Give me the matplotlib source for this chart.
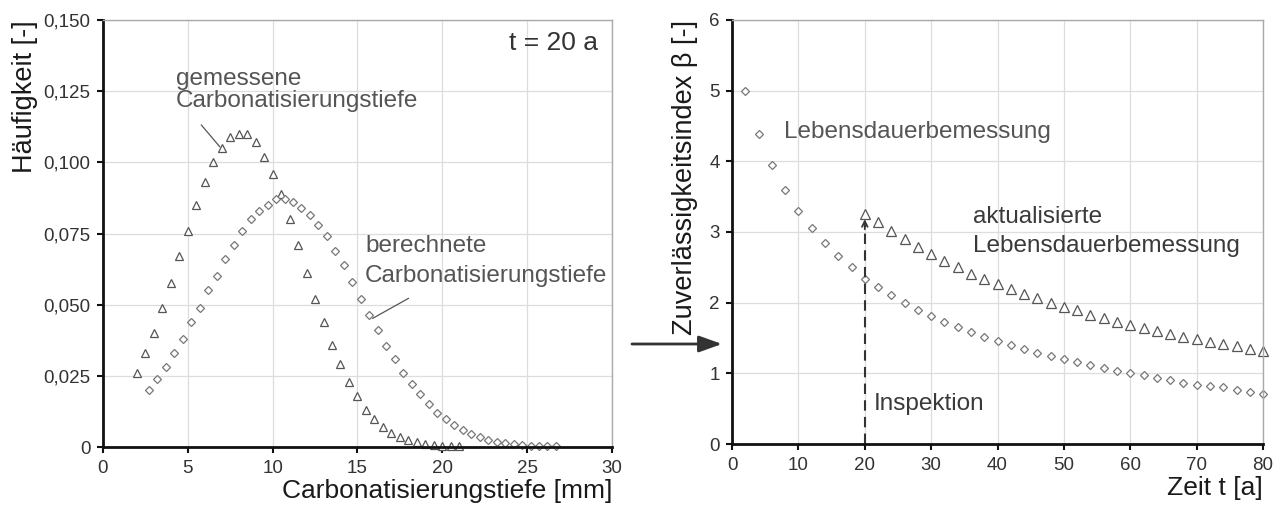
import numpy as np
import matplotlib
matplotlib.use('Agg')
import matplotlib.pyplot as plt
from matplotlib.ticker import FuncFormatter

plt.rcParams['font.family'] = ['Liberation Sans', 'DejaVu Sans']

# linkes Diagramm: Haeufigkeit der Carbonatisierungstiefe (t = 20 a)
tiefe_gemessen = np.arange(2.0, 21.01, 0.5)
haeuf_gemessen = [0.026, 0.033, 0.040, 0.049, 0.0575, 0.067, 0.076, 0.085, 0.093, 0.100,
                  0.105, 0.109, 0.110, 0.110, 0.107, 0.102, 0.096, 0.089, 0.080, 0.071,
                  0.061, 0.052, 0.044, 0.036, 0.029, 0.023, 0.018, 0.013, 0.010, 0.007,
                  0.005, 0.0036, 0.0025, 0.0016, 0.001, 0.0007, 0.0004, 0.0003, 0.0002]

tiefe_berechnet = np.arange(2.7, 26.71, 0.5)
haeuf_berechnet = [0.020, 0.024, 0.028, 0.033, 0.038, 0.044, 0.049, 0.055, 0.060, 0.066,
                   0.071, 0.076, 0.080, 0.083, 0.085, 0.087, 0.087, 0.086, 0.084, 0.0815,
                   0.078, 0.074, 0.069, 0.064, 0.058, 0.052, 0.0464, 0.041, 0.0355, 0.031,
                   0.026, 0.022, 0.0186, 0.015, 0.012, 0.0097, 0.0077, 0.006, 0.0046, 0.0034,
                   0.0025, 0.0019, 0.0013, 0.001, 0.0007, 0.0005, 0.0003, 0.0002, 0.0002]

# rechtes Diagramm: Zuverlaessigkeitsindex beta ueber die Zeit
zeit_bemessung = np.arange(2, 81, 2)
beta_bemessung = [4.99, 4.38, 3.95, 3.59, 3.30, 3.05, 2.85, 2.66, 2.50, 2.34,
                  2.22, 2.11, 2.00, 1.90, 1.81, 1.73, 1.66, 1.59, 1.52, 1.46,
                  1.40, 1.34, 1.29, 1.24, 1.20, 1.16, 1.12, 1.08, 1.04, 1.00,
                  0.97, 0.94, 0.91, 0.87, 0.84, 0.82, 0.80, 0.76, 0.74, 0.71]

zeit_aktuell = np.arange(20, 81, 2)
beta_aktuell = [3.26, 3.14, 3.01, 2.90, 2.79, 2.69, 2.59, 2.51, 2.40, 2.33,
                2.26, 2.19, 2.12, 2.06, 2.00, 1.94, 1.89, 1.83, 1.78, 1.73,
                1.68, 1.64, 1.60, 1.56, 1.52, 1.49, 1.45, 1.41, 1.38, 1.34, 1.32]

zeit_inspektion = 20

TXT = '#555555'
TXT_DUNKEL = '#3a3a3a'
MK_TRI = '#555555'
MK_DIA = '#777777'
FS_ANNO = 17.5


def style_axes(ax):
    for side in ['top', 'right']:
        ax.spines[side].set_color('#aaaaaa')
        ax.spines[side].set_linewidth(1.0)
    for side in ['left', 'bottom']:
        ax.spines[side].set_color('#111111')
        ax.spines[side].set_linewidth(2.0)
    ax.tick_params(direction='out', length=4, width=1.5, color='#111111',
                   labelsize=13.5, labelcolor='#333333', pad=5)
    ax.grid(True, color='#dddddd', linewidth=0.9)
    ax.set_axisbelow(True)


fig = plt.figure(figsize=(12.87, 5.11), dpi=100)

ax1 = fig.add_axes([0.080, 0.1252, 0.3955, 0.8357])
style_axes(ax1)
ax1.plot(tiefe_gemessen, haeuf_gemessen, linestyle='none', marker='^', markersize=6,
         markerfacecolor='white', markeredgecolor=MK_TRI, markeredgewidth=0.9, clip_on=False)
ax1.plot(tiefe_berechnet, haeuf_berechnet, linestyle='none', marker='D', markersize=4,
         markerfacecolor='white', markeredgecolor=MK_DIA, markeredgewidth=0.9, clip_on=False)
ax1.set_xlim(0, 30)
ax1.set_ylim(0, 0.150)
ax1.set_xticks(np.arange(0, 31, 5))
ax1.set_yticks(np.arange(0, 0.151, 0.025))
ax1.yaxis.set_major_formatter(FuncFormatter(
    lambda v, p: '0' if abs(v) < 1e-9 else ('%.3f' % v).replace('.', ',')))
ax1.set_xlabel('Carbonatisierungstiefe [mm]', fontsize=19, loc='right', color='#1a1a1a', labelpad=2)
ax1.set_ylabel('Häufigkeit [-]', fontsize=19.5, loc='top', color='#1a1a1a', labelpad=4)

ax1.text(29.2, 0.1394, 't = 20 a', fontsize=19, color='#333333', ha='right', va='baseline')
ax1.text(4.3, 0.1272, 'gemessene', fontsize=FS_ANNO, color=TXT, va='baseline')
ax1.text(4.3, 0.1194, 'Carbonatisierungstiefe', fontsize=FS_ANNO, color=TXT, va='baseline')
ax1.plot([5.8, 6.88], [0.1131, 0.1055], color=TXT, linewidth=0.9)
ax1.text(15.47, 0.0685, 'berechnete', fontsize=FS_ANNO, color=TXT, va='baseline')
ax1.text(15.4, 0.0580, 'Carbonatisierungstiefe', fontsize=FS_ANNO, color=TXT, va='baseline')
ax1.plot([15.9, 18.0], [0.0452, 0.0522], color=TXT, linewidth=0.9)

ax2 = fig.add_axes([0.5688, 0.1311, 0.4126, 0.8298])
style_axes(ax2)
ax2.plot(zeit_bemessung, beta_bemessung, linestyle='none', marker='D', markersize=4.5,
         markerfacecolor='white', markeredgecolor=MK_DIA, markeredgewidth=0.9, clip_on=False)
ax2.plot(zeit_aktuell, beta_aktuell, linestyle='none', marker='^', markersize=7,
         markerfacecolor='white', markeredgecolor=MK_TRI, markeredgewidth=0.9, clip_on=False)
ax2.plot([zeit_inspektion, zeit_inspektion], [0, 3.1], color='#333333', linewidth=1.5,
         linestyle=(0, (5, 3)))
ax2.annotate('', xy=(zeit_inspektion, 3.22), xytext=(zeit_inspektion, 3.0),
             arrowprops=dict(arrowstyle='->', color='#333333', lw=1.3))
ax2.set_xlim(0, 80)
ax2.set_ylim(0, 6)
ax2.set_xticks(np.arange(0, 81, 10))
ax2.set_yticks(np.arange(0, 7, 1))
ax2.set_xlabel('Zeit t [a]', fontsize=19, loc='right', color='#1a1a1a', labelpad=2)
ax2.set_ylabel('Zuverlässigkeitsindex β [-]', fontsize=19.5, loc='top', color='#1a1a1a', labelpad=8)

ax2.text(7.8, 4.33, 'Lebensdauerbemessung', fontsize=FS_ANNO, color=TXT, va='baseline')
ax2.text(36.3, 3.13, 'aktualisierte', fontsize=FS_ANNO, color=TXT_DUNKEL, va='baseline')
ax2.text(36.3, 2.72, 'Lebensdauerbemessung', fontsize=FS_ANNO, color=TXT_DUNKEL, va='baseline')
ax2.text(21.4, 0.48, 'Inspektion', fontsize=FS_ANNO, color=TXT_DUNKEL, va='baseline')

# Pfeil zwischen den Diagrammen
ax1.annotate('', xy=(722 / 1287, 1 - 344 / 511), xytext=(632 / 1287, 1 - 344 / 511),
             xycoords='figure fraction', textcoords='figure fraction', annotation_clip=False,
             arrowprops=dict(arrowstyle='-|>,head_length=1.4,head_width=0.5',
                             color='#333333', lw=2, shrinkA=0, shrinkB=0))

fig.savefig('out.png', dpi=100)
